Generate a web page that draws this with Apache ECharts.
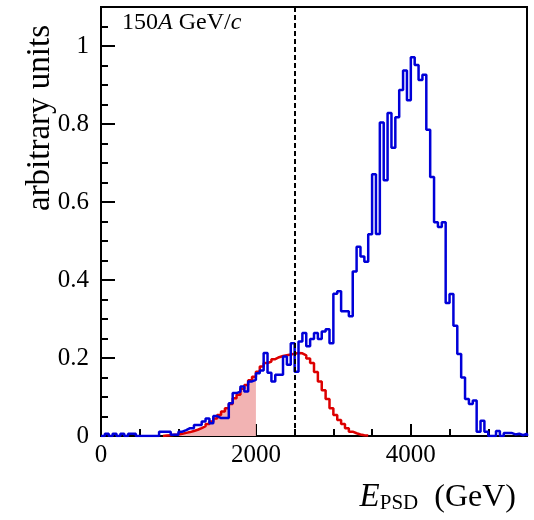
<!DOCTYPE html>
<html><head><meta charset="utf-8">
<script src="https://cdn.jsdelivr.net/npm/echarts@6/dist/echarts.min.js"></script>
<style>html,body{margin:0;padding:0;background:#fff}#c{width:534px;height:520px}</style>
</head><body><div id="c"></div>
<script>
// ---- data ----
const binWidth = 50;            // GeV
const xMin = 0, xMax = 5500;
const yMin = 0, yMax = 1.1;
const xTickLabels = [0, 2000, 4000];
const yTickLabels = [0, 0.2, 0.4, 0.6, 0.8, 1];
const cutValue = 2500;          // dashed vertical line
const fillEnd = 2000;           // shaded red area ends here
const blueStartBin = 0;
const blueValues = [
  0,0.006,0,0.006,0,0.006,0,0.006,0.006,0,
  0,0,0,0,0,0.011,0.011,0.011,0.003,0.003,
  0.011,0.015,0.02,0.02,0.028,0.028,0.037,0.045,0.033,0.051,
  0.046,0.046,0.046,0.084,0.11,0.114,0.127,0.114,0.14,0.144,
  0.161,0.168,0.213,0.162,0.14,0.157,0.157,0.204,0.183,0.238,
  0.165,0.242,0.264,0.23,0.249,0.264,0.249,0.268,0.274,0.238,
  0.365,0.371,0.32,0.32,0.307,0.422,0.485,0.46,0.447,0.517,
  0.671,0.518,0.804,0.656,0.828,0.739,0.817,0.887,0.937,0.861,
  0.971,0.951,0.913,0.926,0.785,0.664,0.548,0.536,0.548,0.341,
  0.364,0.283,0.21,0.15,0.095,0.082,0.091,0.011,0.039,0.011,
  0,0,0.013,0,0.008,0.008,0.004,0.006,0.002,0.006
];
const redStartBin = 16;
const redValues = [
  0.001,0.002,0.003,0.004,0.006,0.008,0.01,0.013,0.016,0.02,
  0.025,0.031,0.037,0.045,0.054,0.063,0.071,0.082,0.097,0.106,
  0.121,0.131,0.143,0.152,0.165,0.178,0.187,0.191,0.197,0.202,
  0.205,0.207,0.209,0.211,0.213,0.212,0.207,0.199,0.187,0.164,
  0.14,0.117,0.095,0.071,0.054,0.041,0.031,0.02,0.011,0.007,
  0.004,0.002,0.001
];

// ---- build stepped outlines from bins ----
function outline(startBin, values, limit) {
  const pts = [];
  const x0 = startBin * binWidth;
  pts.push([x0, 0]);
  for (let i = 0; i < values.length; i++) {
    let a = (startBin + i) * binWidth, b = a + binWidth;
    if (limit !== undefined) { if (a >= limit) break; b = Math.min(b, limit); }
    pts.push([a, values[i]]);
    pts.push([b, values[i]]);
  }
  pts.push([pts[pts.length - 1][0], 0]);
  return pts;
}

const serif = '"Liberation Serif", "DejaVu Serif", serif';
const chart = echarts.init(document.getElementById('c'), null, {renderer: 'canvas'});
const baseAxis = {
  type: 'value', gridIndex: 0, splitLine: {show: false}
};
chart.setOption({
  animation: false,
  backgroundColor: '#fff',
  grid: {left: 101, right: 7, top: 7, bottom: 84, show: true, borderColor: '#000', borderWidth: 2, containLabel: false},
  xAxis: [
    Object.assign({}, baseAxis, {
      min: xMin, max: xMax, interval: xTickLabels[1] - xTickLabels[0], position: 'bottom',
      axisLine: {show: true, lineStyle: {color: '#000', width: 2}},
      axisTick: {show: true, inside: true, length: 12, lineStyle: {color: '#000', width: 2}},
      axisLabel: {show: true, showMaxLabel: false, color: '#000', fontFamily: serif, fontSize: 25, margin: 7,
        formatter: v => xTickLabels.includes(v) ? String(v) : ''}
    }),
    Object.assign({}, baseAxis, {
      min: xMin, max: xMax, interval: 500, position: 'bottom',
      axisLine: {show: false},
      axisTick: {show: true, inside: true, length: 7, lineStyle: {color: '#000', width: 2}},
      axisLabel: {show: false}
    })
  ],
  yAxis: [
    Object.assign({}, baseAxis, {
      min: yMin, max: yMax, interval: 0.2, position: 'left',
      axisLine: {show: true, lineStyle: {color: '#000', width: 2}},
      axisTick: {show: true, inside: true, length: 14, lineStyle: {color: '#000', width: 2}},
      axisLabel: {show: true, showMaxLabel: false, color: '#000', fontFamily: serif, fontSize: 25, margin: 12,
        formatter: v => { const m = yTickLabels.find(t => Math.abs(t - v) < 1e-6); return m === undefined ? '' : String(m); }}
    }),
    Object.assign({}, baseAxis, {
      min: yMin, max: yMax, interval: 0.05, position: 'left',
      axisLine: {show: false},
      axisTick: {show: true, inside: true, length: 7, lineStyle: {color: '#000', width: 2}},
      axisLabel: {show: false}
    })
  ],
  series: [
    {
      type: 'line', name: 'fill', xAxisIndex: 0, yAxisIndex: 0,
      data: outline(redStartBin, redValues, fillEnd),
      symbol: 'none', lineStyle: {width: 0}, areaStyle: {color: '#f2b3b3', opacity: 1}, z: 1, silent: true
    },
    {
      type: 'line', name: 'red', xAxisIndex: 0, yAxisIndex: 0,
      data: outline(redStartBin, redValues),
      symbol: 'none', lineStyle: {color: '#dd0000', width: 2.5}, z: 2, silent: true
    },
    {
      type: 'line', name: 'blue', xAxisIndex: 0, yAxisIndex: 0,
      data: outline(blueStartBin, blueValues),
      symbol: 'none', lineStyle: {color: '#0000d8', width: 2.5}, z: 3, silent: true,
      markLine: {
        silent: true, symbol: ['none', 'none'], label: {show: false},
        lineStyle: {color: '#000', type: [5, 3], width: 2},
        data: [{xAxis: cutValue}], z: 10
      }
    }
  ],
  graphic: [
    {
      type: 'text', x: 122, y: 11, z: 20,
      style: {
        text: '{n|150}{i|A}{n| GeV/}{i|c}',
        rich: {
          n: {fontFamily: serif, fontSize: 24, fill: '#000'},
          i: {fontFamily: serif, fontSize: 24, fontStyle: 'italic', fill: '#000'}
        }
      }
    },
    {
      type: 'text', x: 516, y: 476, z: 20,
      style: {
        text: '{e|E}{s|PSD}{n|  (GeV)}', align: 'right',
        rich: {
          e: {fontFamily: serif, fontSize: 33, fontStyle: 'italic', fill: '#000', verticalAlign: 'bottom', lineHeight: 38},
          s: {fontFamily: serif, fontSize: 21, fill: '#000', verticalAlign: 'bottom', lineHeight: 28},
          n: {fontFamily: serif, fontSize: 32, fill: '#000', verticalAlign: 'bottom', lineHeight: 38}
        }
      }
    },
    {
      type: 'text', x: 40, y: 118, rotation: Math.PI / 2, z: 20,
      style: {
        text: 'arbitrary units', align: 'center', verticalAlign: 'middle',
        font: '33px ' + serif, fill: '#000'
      }
    }
  ]
});
</script>
</body></html>
